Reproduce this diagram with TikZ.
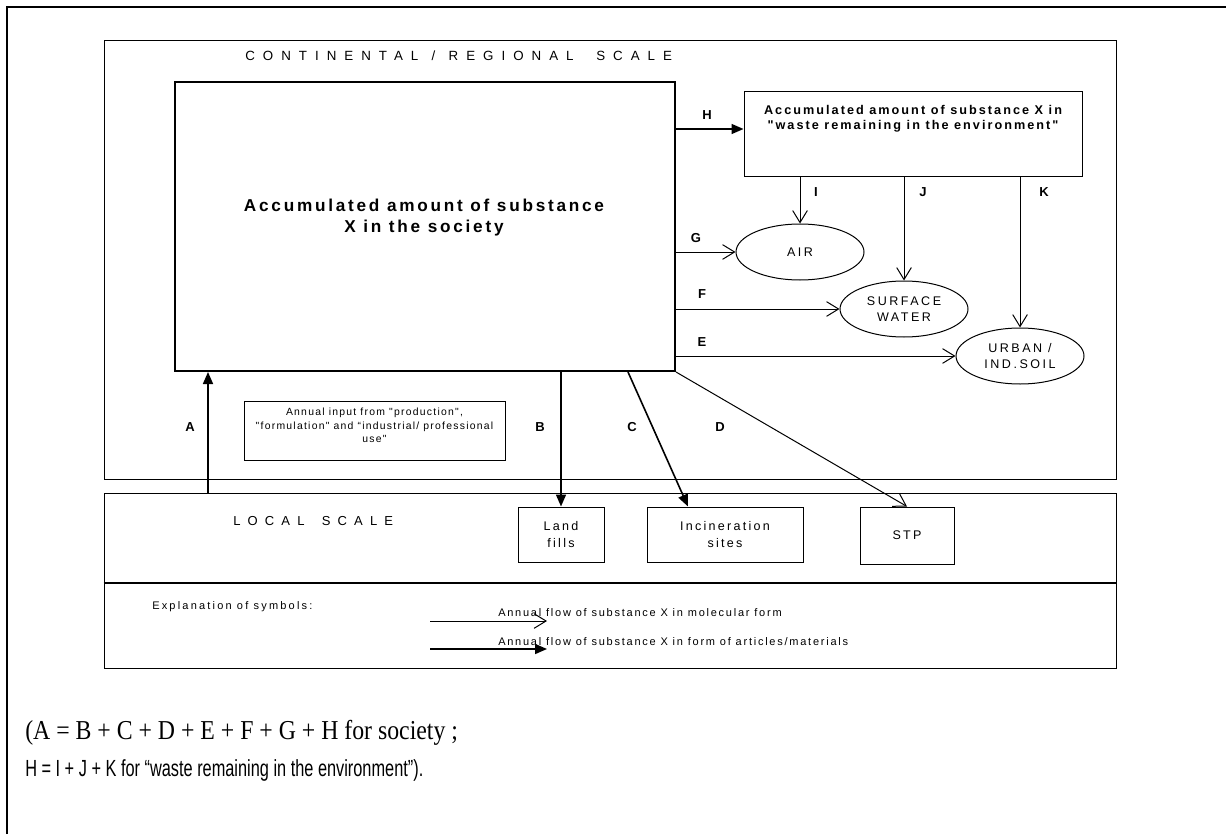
\documentclass[tikz,border=0pt]{standalone}
\usepackage{fontspec}
\setmainfont{Liberation Sans}
\newfontfamily\contfont{Liberation Sans}[LetterSpace=60]
\newfontfamily\localfont{Liberation Sans}[LetterSpace=55]
\newfontfamily\socfont{Liberation Sans}[LetterSpace=16]
\newfontfamily\wastefont{Liberation Sans}[LetterSpace=16]
\newfontfamily\inputfont{Liberation Sans}[LetterSpace=12]
\newfontfamily\boxfont{Liberation Sans}[LetterSpace=18]
\newfontfamily\ellfont{Liberation Sans}[LetterSpace=20]
\newfontfamily\legfont{Liberation Sans}[LetterSpace=16]
\newfontfamily\explfont{Liberation Sans}[LetterSpace=20]
\newfontfamily\tnrfont{Liberation Serif}[FakeStretch=0.87]
\newfontfamily\narrowfont{Liberation Sans}[FakeStretch=0.7]
\usetikzlibrary{arrows.meta,shapes.geometric}
\begin{document}
\begin{tikzpicture}[x=0.75pt,y=-0.75pt,
  frame/.style={draw, line width=0.75pt, inner sep=0pt},
  ell/.style={draw, ellipse, line width=0.75pt, inner sep=0pt,
    minimum width=96pt, minimum height=42pt, align=center,
    font=\ellfont\fontsize{9.4}{11.5}\selectfont},
  smallbox/.style={frame, align=center, font=\boxfont\fontsize{9.4}{12.75}\selectfont},
  flab/.style={font=\bfseries\fontsize{9.75}{11}\selectfont, inner sep=0pt},
  mol/.style={line width=0.75pt, -{Straight Barb[length=9pt,width=11pt]}},
  art/.style={line width=1.2pt, -{Triangle[length=9pt,width=7.5pt]}}
]
\useasboundingbox (0,0) rectangle (1226,834);

% outer frame (top and left only)
\draw[line width=1.5pt] (7,834) -- (7,7) -- (1226,7);

% scale boxes
\node[frame, minimum width=759pt, minimum height=328.5pt] (cont) at (610,260) {};
\node[frame, minimum width=759pt, minimum height=66.75pt] (local) at (610,537.5) {};
\node[frame, minimum width=759pt, minimum height=64.5pt] (legend) at (610,625) {};
\draw[line width=1.5pt] (local.south west) -- (local.south east);

\node[anchor=west, inner sep=0pt, font=\contfont\fontsize{10}{12}\selectfont] (conttitle) at (245,56)
  {CONTINENTAL\hspace{10pt}/\hspace{10pt}REGIONAL\hspace{17pt}SCALE};
\node[anchor=west, inner sep=0pt, font=\localfont\fontsize{9.75}{12}\selectfont] (localtitle) at (233,521)
  {LOCAL\hspace{13pt}SCALE};

% society box
\node[draw, line width=1.5pt, inner sep=0pt, minimum width=375pt, minimum height=216.75pt] (soc) at (425,226.5) {};
\node[align=center, inner sep=0pt, font=\socfont\bfseries\fontsize{12.9}{15.75}\selectfont] (soctext) at (424,218)
  {Accumulated amount of substance\\X in the society};

% waste box
\node[frame, minimum width=253.5pt, minimum height=63.75pt] (waste) at (913,134.5) {};
\node[align=center, inner sep=0pt, font=\wastefont\bfseries\fontsize{9.5}{11.25}\selectfont] (wastetext) at (913,119)
  {Accumulated amount of substance X in\\"waste remaining in the environment"};

% input box
\node[frame, minimum width=195.75pt, minimum height=44.25pt] (input) at (374.5,430.5) {};
\node[align=center, inner sep=0pt, font=\inputfont\fontsize{7.8}{10}\selectfont] (inputtext) at (374.5,425.5)
  {Annual input from "production",\\"formulation" and “industrial/ professional\\use"};

% environment compartments
\node[ell] (air) at (800,252) {AIR};
\node[ell] (sw) at (904,309) {SURFACE\\WATER};
\node[ell] (urban) at (1020,356) {URBAN /\\IND.SOIL};

% local boxes
\node[smallbox, minimum width=64.5pt, minimum height=41.25pt] (lf) at (561,534.5) {Land\\fills};
\node[smallbox, minimum width=117pt, minimum height=41.25pt] (inc) at (725,534.5) {Incineration\\sites};
\node[smallbox, minimum width=70.5pt, minimum height=42.75pt] (stp) at (907,535.5) {STP};

% helper coordinates
\coordinate (hy) at (744,129);
\coordinate (xa) at (208,0);
\coordinate (xc1) at (628,0);
\coordinate (xc2) at (688,0);

% flows
\draw[art] (soc.east |- hy) -- (waste.west |- hy);
\draw[mol] (waste.south -| air.north) -- (air.north);
\draw[mol] (waste.south -| sw.north) -- (sw.north);
\draw[mol] (waste.south -| urban.north) -- (urban.north);
\draw[mol] (soc.east |- air.west) -- (air.west);
\draw[mol] (soc.east |- sw.west) -- (sw.west);
\draw[mol] (soc.east |- urban.west) -- (urban.west);
\draw[mol] (soc.south east) -- (stp.north);
\draw[art] (soc.south -| xc1) -- (inc.north -| xc2);
\draw[art] (soc.south -| lf.north) -- (lf.north);
\draw[art] (local.north -| xa) -- (soc.south -| xa);

% flow labels
\node[flab] (labA) at (190,427) {A};
\node[flab] (labB) at (540,427) {B};
\node[flab] (labC) at (632,427) {C};
\node[flab] (labD) at (720,427) {D};
\node[flab] (labE) at (702,342) {E};
\node[flab] (labF) at (702,294) {F};
\node[flab] (labG) at (696,238) {G};
\node[flab] (labH) at (707,115) {H};
\node[flab] (labI) at (816,192) {I};
\node[flab] (labJ) at (923,192) {J};
\node[flab] (labK) at (1044,192) {K};

% legend
\node[anchor=west, inner sep=0pt, font=\explfont\fontsize{8.25}{10}\selectfont] (expl) at (152,607) {Explanation of symbols:};
\coordinate (l1s) at (430,621);
\coordinate (l1e) at (547,621);
\coordinate (l2s) at (430,649);
\coordinate (l2e) at (547,649);
\draw[mol] (l1s) -- (l1e);
\draw[art] (l2s) -- (l2e);
\node[anchor=west, inner sep=0pt, font=\legfont\fontsize{8.25}{10}\selectfont] (leg1) at (498,613) {Annual flow of substance X in molecular form};
\node[anchor=west, inner sep=0pt, font=\legfont\fontsize{8.25}{10}\selectfont] (leg2) at (498,642) {Annual flow of substance X in form of articles/materials};

% balance equations
\node[anchor=west, inner sep=0pt, font=\tnrfont\fontsize{20.5}{22}\selectfont] (eq1) at (25,733)
  {(A = B + C + D + E + F + G + H for society ;};
\node[anchor=west, inner sep=0pt, font=\narrowfont\fontsize{17.5}{20}\selectfont] (eq2) at (25,770)
  {H = I + J + K for “waste remaining in the environment”).};
\end{tikzpicture}
\end{document}
